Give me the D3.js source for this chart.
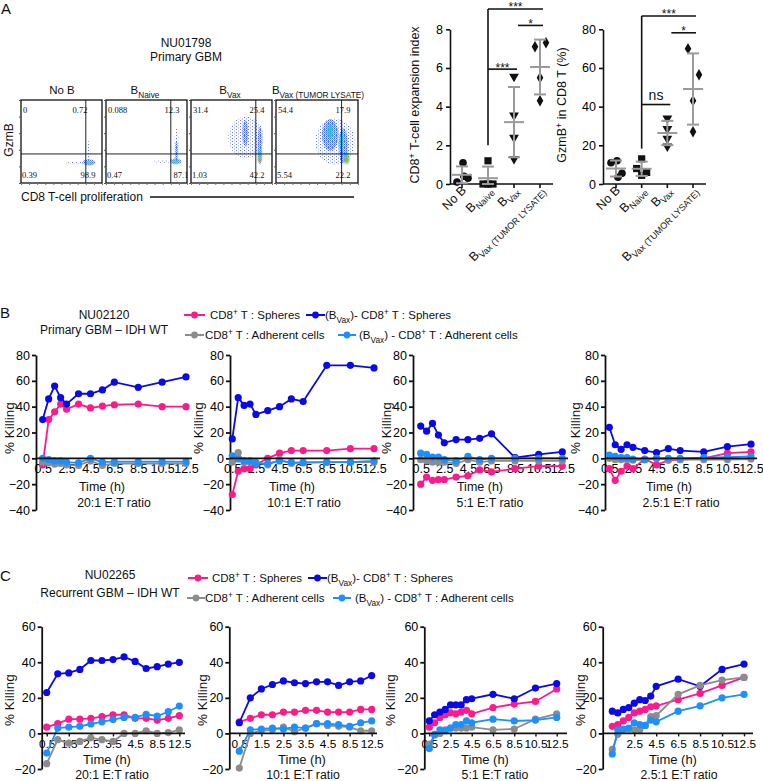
<!DOCTYPE html>
<html><head><meta charset="utf-8">
<script src="https://cdn.jsdelivr.net/npm/d3@7"></script>
<style>body{margin:0;background:#fff}svg{display:block}</style>
</head><body><svg id="c" width="763" height="781"></svg>
<script>
// ================= DATA =================
const flowConditions = ["No B", "B|Naive", "B|Vax", "B|Vax (TUMOR LYSATE)"];
// quadrant %: [upper-left, upper-right, lower-left, lower-right]
const flowQuadrants = [[0, 0.72, 0.39, 98.9], [0.088, 12.3, 0.47, 87.1], [31.4, 25.4, 1.03, 42.2], [54.4, 17.9, 5.54, 22.2]];
const flowGateProlif = 80, flowGateGzmb = 35;
// density regions: [proliferation, GzmB, spreadX, spreadY, density level]
const flowBlobsNoB = [[70,24,16,1.5,0],[84,38,1.5,14,0],[84,25,8,3.5,1],[84,24,5,2,2],[83,24,2.2,1.2,3]];
const flowBlobsNaive = [[70,26,15,1.5,0],[87,47,2.5,20,0],[87,38,2,13,1],[86,26,7,3.5,1],[86,26,4,2.2,2],[86,25.5,1.8,1.2,3]];
const flowBlobsVax = [[68,55,22,25,0],[85,45,2.8,23,1],[67,60,3.5,16,1],[85,33,2.2,8,2],[85,28,1.6,3.5,3],[85,27.5,1.1,1.6,4]];
const flowBlobsTL = [[72,50,24,28,0],[66,58,10,19,1],[82,45,5.5,21,1],[66,62,3.5,9,2],[80,50,2.2,11,2],[86,30,3.5,7,2],[86,28,2.2,3.5,3],[86,28,1.3,1.7,4]];

const scatterGroups = ["No B", "B|Naive", "B|Vax", "B|Vax (TUMOR LYSATE)"];
const expansionIndex = [[0.1, 1.1, 0.3, 0.4], [1.2, 0, 0, 0], [5.55, 3.55, 2.4, 1.3], [7.1, 7.3, 5.5, 4.3]];
const gzmbPercent = [[11, 12, 5.5, 3.5], [13, 8, 6, 4.5], [34, 28.5, 23.5, 19.5], [70, 56.5, 43, 27]];
const expansionTicks = [0, 2, 4, 6, 8];
const gzmbTicks = [0, 20, 40, 60, 80];
const expansionSig = [[1, 3, 9.05, "***"], [2, 3, 8.2, "*"], [1, 2, 5.94, "***"]];
const gzmbSig = [[1, 3, 86.9, "***"], [2, 3, 78.2, "*"], [1, 2, 41.1, "ns"]];
const expansionSigBase = 2.0, gzmbSigBase = 18.3;

const seriesLabels = [
  [["CD8"],["+","sup"],[" T : Spheres"]],
  [["(B"],["Vax","sub"],[")- CD8"],["+","sup"],[" T : Spheres"]],
  [["CD8"],["+","sup"],[" T : Adherent cells"]],
  [["(B"],["Vax","sub"],[") - CD8"],["+","sup"],[" T : Adherent cells"]]
];
const seriesColors = ["#ff1a8c", "#0a0ae8", "#8c8c8c", "#1e8fff"];
const ratioLabels = ["20:1 E:T ratio", "10:1 E:T ratio", "5:1 E:T ratio", "2.5:1 E:T ratio"];

const timesB = [0.5, 1, 1.5, 2, 2.5, 3.5, 4.5, 5.5, 6.5, 8.5, 10.5, 12.5];
const ticksB = [0.5, 2.5, 4.5, 6.5, 8.5, 10.5, 12.5];
const yTicksB = [-40, -20, 0, 20, 40, 60, 80];
const bSph20 = [-5, 30, 36, 42, 38, 42, 39, 40.5, 41.5, 42, 40, 40];
const bVaxSph20 = [30, 46, 56, 47, 42, 50, 50, 53, 59, 55, 59, 63];
const bAdh20 = [-3, -3.5, -4.5, -4, -5, -5.5, -2, -5.5, -4, -4, -4, -4];
const bVaxAdh20 = [0, -1, -2, -2, -3, -3.5, 0, -3, -2.5, -2.5, -2.5, -2.5];
const bSph10 = [-28, -10, -8, -8, -5, 0, 4, 6, 6, 6, 7.5, 7.5];
const bVaxSph10 = [15, 47, 41, 42, 34, 37, 40, 46, 44, 72, 72, 70];
const bAdh10 = [-3, 4.5, -3, -3, -3, -5, -1, -4, -3, -3, -3, -3];
const bVaxAdh10 = [2, -0.5, -2, -2, -4, -4, -2, -3, -3.5, -3, -3, -2];
const bSph5 = [-20, -14.5, -17, -16.5, -16.5, -14.5, -13.5, -9, -10.5, -8, -6, -6];
const bVaxSph5 = [25, 21, 27, 18, 12, 14.5, 14.5, 15.5, 19, 0.5, 3, 5];
const bAdh5 = [-1, -2, -3, -3, -3, -4, -1, -3, -2, -2, -2, -2];
const bVaxAdh5 = [4, 3, 1, 1, -1, -2, 1.5, -1, 0, 0, 0, 0];
const bSph2 = [-8, -17, -10, -6, -8, -0.5, -5, -1.5, -1, 0, 4, 5];
const bVaxSph2 = [24, 10.5, 7, 10.5, 8.5, 6, 4.5, 7.5, 6, 5, 9, 11];
const bAdh2 = [0, -1, -1, -1, -1.5, -1, 0, -1, -1, -1, -1, -0.5];
const bVaxAdh2 = [2.5, 1.5, 0.5, 0.5, -0.5, -1, 0, 0, 0, 0.5, 1, 1.5];

const timesC = [0.5, 1, 1.5, 2, 2.5, 3, 3.5, 4, 4.5, 6.5, 8.5, 10.5, 12.5];
const ticksCcat = [0.5, 1.5, 2.5, 3.5, 4.5, 8.5, 12.5];
const ticksClin = [0.5, 2.5, 4.5, 6.5, 8.5, 10.5, 12.5];
const ticksClin2 = [2.5, 4.5, 6.5, 8.5, 10.5, 12.5];
const yTicksC = [-20, 0, 20, 40, 60];
const cSph20 = [3.5, 5.5, 8, 8, 8.5, 9.5, 10.5, 10.5, 8.5, 8.5, 7.5, 8.5, 10];
const cVaxSph20 = [23, 33.5, 34, 36, 41, 41, 41.5, 43, 40.5, 36.5, 37.5, 39, 40];
const cAdh20 = [-17, -3.5, -5.5, -4.5, -2.5, -3.5, -4.5, 0, 0, 1.5, 0, 0.5, 2];
const cVaxAdh20 = [-11, 3, 3.5, 4, 5.3, 6.5, 7.8, 9, 9, 10.7, 9.8, 12.2, 15.4];
const cSph10 = [6.5, 8.5, 10.5, 10.5, 12, 12, 13, 13, 12, 12, 12, 13.5, 13.5];
const cVaxSph10 = [6, 20, 25, 27.5, 29.5, 28.5, 28, 29, 29, 27, 29, 29.5, 32.5];
const cAdh10 = [-19.5, 0, 1.5, 2, 3.5, 1, 3, 5.5, 4.5, 4, 3.5, 1.5, 1.5];
const cVaxAdh10 = [-10, 2, 2.5, 3, 2.5, 3.5, 3, 5.5, 5.5, 5, 4, 6, 7];
const cSph5 = [3.5, 6, 9, 10.5, 11.5, 11, 12, 13, 11, 14.5, 16.5, 18, 25];
const cVaxSph5 = [7, 10.5, 12, 13.5, 16, 16, 16, 19, 19.5, 22, 19.5, 25.5, 28];
const cAdh5 = [-6, -1, 0, 2, 3, 3, 3, 3, 3.5, 2, 2.5, 8, 11];
const cVaxAdh5 = [-8.5, -0.5, 2, 1.5, 3, 5, 5, 7, 6, 8, 7, 7.5, 9];
const cSph2 = [4, 5, 7, 9, 11.5, 12.5, 13.5, 15, 15.5, 19, 22.5, 27, 31.5];
const cVaxSph2 = [12.5, 11.5, 13.5, 14.5, 17, 19, 18.5, 21, 26.5, 30.5, 26.5, 36, 39];
const cAdh2 = [-9, -0.5, 2, 2.5, 2, 2, 4.5, 9.5, 10, 22, 27, 30, 31.5];
const cVaxAdh2 = [-11.5, 2, 2.5, 3, 6, 5, 4.5, 7.5, 6.5, 12.5, 15.5, 20, 22];

// ================= DRAWING =================
const FONT = '"Liberation Sans", Arial, Helvetica, sans-serif';
const SERIF = '"Liberation Serif", "Times New Roman", serif';
const svg = d3.select("#c").attr("font-family", FONT);
const defs = svg.append("defs");
const pat = defs.append("pattern").attr("id", "spk").attr("width", 4).attr("height", 3).attr("patternUnits", "userSpaceOnUse");
pat.append("rect").attr("width", 1).attr("height", 1).attr("fill", "#2438ff");
pat.append("rect").attr("x", 2).attr("y", 1.5).attr("width", 1).attr("height", 1).attr("fill", "#5a7cff");
const pat2 = defs.append("pattern").attr("id", "spk2").attr("width", 2).attr("height", 2).attr("patternUnits", "userSpaceOnUse");
pat2.append("rect").attr("width", 1.2).attr("height", 1.2).attr("fill", "#2f5cff");
pat2.append("rect").attr("x", 1).attr("y", 1).attr("width", 1).attr("height", 1).attr("fill", "#38b8ff");
defs.append("filter").attr("id", "bl").attr("x", "-50%").attr("y", "-50%").attr("width", "200%").attr("height", "200%")
  .append("feGaussianBlur").attr("stdDeviation", 0.8);

function rich(t, parts, size) {
  let shift = 0;
  parts.forEach(([s, m]) => {
    const target = m === "sub" ? 3.5 : m === "sup" ? -4.5 : 0;
    const ts = t.append("tspan").text(s).attr("dy", target - shift);
    shift = target;
    if (m) ts.attr("font-size", size * 0.72);
  });
}
function labelParts(s) {
  if (s.indexOf("|") < 0) return [[s]];
  const [a, b] = s.split("|");
  return [[a], [b, "sub"]];
}
function text(x, y, s, opt = {}) {
  const t = svg.append("text").attr("x", x).attr("y", y)
    .attr("font-size", opt.size || 12).attr("text-anchor", opt.anchor || "start").attr("fill", "#111");
  if (opt.family) t.attr("font-family", opt.family);
  if (opt.rotate) t.attr("transform", `rotate(${opt.rotate},${x},${y})`);
  if (Array.isArray(s)) rich(t, s, opt.size || 12); else t.text(s);
  return t;
}

// ---- panel letters & titles
text(1, 14, "A", {size: 15});
text(0, 318, "B", {size: 15});
text(0, 581, "C", {size: 15});
text(186, 47, "NU01798", {anchor: "middle"});
text(186, 61, "Primary GBM", {anchor: "middle"});
text(104, 319, "NU02120", {anchor: "middle"});
text(104, 334, "Primary GBM \u2013 IDH WT", {anchor: "middle"});
text(110, 579, "NU02265", {anchor: "middle"});
text(110, 597, "Recurrent GBM \u2013 IDH WT", {anchor: "middle"});

// ---- flow plots
const flowBoxes = [[21, 102], [106, 187], [191, 272], [276, 358]];
const flowTop = 100, flowBottom = 183;
const flowBlobs = [flowBlobsNoB, flowBlobsNaive, flowBlobsVax, flowBlobsTL];
const levelFill = ["url(#spk)", "url(#spk2)", "#22c4b0", "#c8d82a", "#ff3a1a"];
const levelOp = [0.7, 0.85, 0.85, 0.9, 0.95];
const titleX = [62, 145, 230, 318];
const urX = [80, 172, 257, 343], lrX = [88, 181, 257, 343];
flowConditions.forEach((c, i) => {
  const [l, r] = flowBoxes[i];
  const fx = d3.scaleLinear().domain([0, 100]).range([l, r]);
  const fy = d3.scaleLinear().domain([0, 100]).range([flowBottom, flowTop]);
  defs.append("clipPath").attr("id", "fc" + i).append("rect").attr("x", l).attr("y", flowTop).attr("width", r - l).attr("height", flowBottom - flowTop);
  const g = svg.append("g").attr("clip-path", `url(#fc${i})`);
  flowBlobs[i].forEach(([px, gy, sx, sy, lv]) => {
    g.append("ellipse").attr("cx", fx(px)).attr("cy", fy(gy))
      .attr("rx", fx(px + sx) - fx(px)).attr("ry", fy(gy) - fy(gy + sy))
      .attr("fill", levelFill[lv]).attr("opacity", levelOp[lv])
      .attr("filter", lv > 1 ? "url(#bl)" : null);
  });
  g.append("line").attr("x1", l).attr("x2", r).attr("y1", fy(flowGateGzmb)).attr("y2", fy(flowGateGzmb)).attr("stroke", "#222").attr("stroke-width", 1);
  g.append("line").attr("x1", fx(flowGateProlif)).attr("x2", fx(flowGateProlif)).attr("y1", flowTop).attr("y2", flowBottom).attr("stroke", "#222").attr("stroke-width", 1);
  svg.append("rect").attr("x", l).attr("y", flowTop).attr("width", r - l).attr("height", flowBottom - flowTop)
    .attr("fill", "none").attr("stroke", "#111").attr("stroke-width", 1.3);
  const la = svg.append("g").attr("transform", `translate(${l},0)`).call(d3.axisLeft(fy).ticks(5).tickSize(2).tickFormat(""));
  la.select(".domain").remove(); la.selectAll("line").attr("stroke", "#555");
  const ba = svg.append("g").attr("transform", `translate(0,${flowBottom})`).call(d3.axisBottom(fx).ticks(8).tickSize(2).tickFormat(""));
  ba.select(".domain").remove(); ba.selectAll("line").attr("stroke", "#777");
  const q = flowQuadrants[i];
  text(l + 2, 113, String(q[0]), {size: 8.5, family: SERIF});
  text(urX[i], 113, String(q[1]), {size: 8.5, family: SERIF, anchor: "middle"});
  text(l + 1, 178, String(q[2]), {size: 8.5, family: SERIF});
  text(lrX[i], 178, String(q[3]), {size: 8.5, family: SERIF, anchor: "middle"});
  text(titleX[i], 94, labelParts(c), {size: 11.5, anchor: "middle"});
});
text(13, 140, "GzmB", {anchor: "middle", rotate: -90});
text(21, 201, "CD8 T-cell proliferation");
svg.append("line").attr("x1", 150).attr("x2", 354).attr("y1", 197).attr("y2", 197).attr("stroke", "#111").attr("stroke-width", 1.5);

// ---- scatter plots (panel A)
function scatterPlot(values, yTicks, sig, sigBase, axisX, axisEnd, xr, yLabel, yLabelX) {
  const y = d3.scaleLinear().domain([0, yTicks[yTicks.length - 1]]).range([184, 29.3]);
  const x = d3.scalePoint().domain(scatterGroups).range(xr);
  const ya = svg.append("g").attr("transform", `translate(${axisX},0)`)
    .call(d3.axisLeft(y).tickValues(yTicks).tickSize(4).tickSizeOuter(0).tickPadding(3));
  ya.attr("font-size", 12.5).attr("font-family", FONT);
  ya.selectAll("path,line").attr("stroke", "#111").attr("stroke-width", 1.6);
  svg.append("line").attr("x1", axisX).attr("x2", axisEnd).attr("y1", y(0)).attr("y2", y(0)).attr("stroke", "#111").attr("stroke-width", 1.6);
  scatterGroups.forEach((gName) => {
    const cx = x(gName);
    svg.append("line").attr("x1", cx).attr("x2", cx).attr("y1", y(0)).attr("y2", y(0) + 4).attr("stroke", "#111").attr("stroke-width", 1.6);
    text(cx + 5, 191, labelParts(gName), {anchor: "end", rotate: -45, size: 12.5});
  });
  const offsets = [[-5, 1, 6, 2], [0, -5, 5, 0], [0, 0, 0, 0], [-5, 6, 0, 0]];
  const symbols = [d3.symbolCircle, d3.symbolSquare, d3.symbolTriangle, d3.symbolDiamond];
  const sizes = [46, 52, 42, 38];
  values.forEach((vals, gi) => {
    const cx = x(scatterGroups[gi]);
    vals.forEach((v, k) => {
      svg.append("path").attr("d", d3.symbol(symbols[gi], sizes[gi])())
        .attr("transform", `translate(${cx + offsets[gi][k]},${y(v)}) rotate(${gi === 2 ? 180 : 0})`).attr("fill", "#111");
    });
  });
  values.forEach((vals, gi) => {
    const cx = x(scatterGroups[gi]);
    const m = d3.mean(vals), sd = d3.deviation(vals);
    const lo = Math.max(0, m - sd), hi = m + sd;
    const gg = svg.append("g").attr("stroke", "#9a9a9a").attr("stroke-width", 2);
    gg.append("line").attr("x1", cx).attr("x2", cx).attr("y1", y(lo)).attr("y2", y(hi));
    gg.append("line").attr("x1", cx - 10).attr("x2", cx + 10).attr("y1", y(m)).attr("y2", y(m));
    gg.append("line").attr("x1", cx - 6).attr("x2", cx + 6).attr("y1", y(hi)).attr("y2", y(hi));
    gg.append("line").attr("x1", cx - 6).attr("x2", cx + 6).attr("y1", y(lo)).attr("y2", y(lo));
  });
  const topY = d3.max(sig, d => d[2]);
  svg.append("line").attr("x1", x(scatterGroups[1])).attr("x2", x(scatterGroups[1])).attr("y1", y(topY)).attr("y2", y(sigBase)).attr("stroke", "#111").attr("stroke-width", 1.6);
  sig.forEach(([a, b, v, lab]) => {
    const x0 = x(scatterGroups[a]) + (a === 1 ? 0 : 4), x1 = x(scatterGroups[b]) + 3;
    svg.append("line").attr("x1", x0).attr("x2", x1).attr("y1", y(v)).attr("y2", y(v)).attr("stroke", "#111").attr("stroke-width", 1.6);
    text((x0 + x1) / 2, y(v) + (lab === "ns" ? -5 : 2.5), lab, {anchor: "middle", size: lab === "ns" ? 14 : 12});
  });
  text(yLabelX, 105, yLabel, {anchor: "middle", rotate: -90, size: 12.5});
}
scatterPlot(expansionIndex, expansionTicks, expansionSig, expansionSigBase, 450, 553, [462, 540],
  [["CD8"], ["+", "sup"], [" T-cell expansion index"]], 419);
scatterPlot(gzmbPercent, gzmbTicks, gzmbSig, gzmbSigBase, 603, 706, [616, 693],
  [["GzmB"], ["+", "sup"], [" in CD8 T (%)"]], 566);

// ---- legends
function legend(rows) {
  rows.forEach(([si, x0, x1, tx, y]) => {
    svg.append("line").attr("x1", x0).attr("x2", x1).attr("y1", y).attr("y2", y).attr("stroke", seriesColors[si]).attr("stroke-width", 2);
    svg.append("circle").attr("cx", (x0 + x1) / 2).attr("cy", y).attr("r", 3.4).attr("fill", seriesColors[si]);
    text(tx, y + 4, seriesLabels[si], {size: 11.5});
  });
}
legend([[0, 184, 205, 210, 315], [1, 306, 325, 325, 315], [2, 185, 204, 205, 335], [3, 338, 356, 359, 335]]);
legend([[0, 188, 208, 212, 578], [1, 308, 327, 327, 578], [2, 187, 205, 205, 598], [3, 333, 351, 355, 598]]);

// ---- killing plots
function killingPlot(p) {
  const y = d3.scaleLinear().domain(p.yDomain).range(p.yRange);
  const x = p.mode === "point"
    ? d3.scalePoint().domain(p.times).range([p.xStart, p.xEnd])
    : d3.scaleLinear().domain([p.times[0], p.times[p.times.length - 1]]).range([p.xStart, p.xEnd]);
  const ya = svg.append("g").attr("transform", `translate(${p.axisX},0)`)
    .call(d3.axisLeft(y).tickValues(p.yTicks).tickSize(4).tickSizeOuter(0).tickPadding(2).tickFormat(d3.format("d")));
  ya.attr("font-size", 12.5).attr("font-family", FONT);
  ya.selectAll("path,line").attr("stroke", "#111").attr("stroke-width", 1.8);
  const y0 = y(0);
  const xa = svg.append("g").attr("transform", `translate(0,${y0})`)
    .call(d3.axisBottom(x).tickValues(p.xTicks).tickSize(3).tickFormat(d => d));
  xa.select(".domain").remove();
  xa.attr("font-size", p.xTickSize).attr("font-family", FONT);
  xa.selectAll("line").attr("stroke", "#111").attr("stroke-width", 1.4);
  const line = d3.line().x((d, i) => x(p.times[i])).y(d => y(d));
  p.series.forEach((vals, si) => {
    svg.append("path").attr("d", line(vals)).attr("fill", "none").attr("stroke", seriesColors[si]).attr("stroke-width", 1.8);
    svg.append("g").selectAll("circle").data(vals).join("circle")
      .attr("cx", (d, i) => x(p.times[i])).attr("cy", d => y(d)).attr("r", 3.6).attr("fill", seriesColors[si]);
  });
  svg.append("line").attr("x1", p.axisX).attr("x2", p.axisEnd).attr("y1", y0).attr("y2", y0).attr("stroke", "#111").attr("stroke-width", 1.7);
  text(p.timeX, p.timeY, "Time (h)", {anchor: "middle", size: p.timeSize});
  text(p.ratioX, p.ratioY, p.ratio, {anchor: "middle", size: 12.3});
  text(p.killX, p.killY, "% Killing", {anchor: "middle", rotate: -90, size: 13.5});
}
const bSeries = [[bSph20, bVaxSph20, bAdh20, bVaxAdh20], [bSph10, bVaxSph10, bAdh10, bVaxAdh10],
  [bSph5, bVaxSph5, bAdh5, bVaxAdh5], [bSph2, bVaxSph2, bAdh2, bVaxAdh2]];
const bLayout = [[36, 42.7, 186, 192, 102, 114, 14], [230, 232.3, 374, 380, 292, 304, 203], [413, 420.7, 562.3, 568, 480, 490, 391], [605, 609.3, 751, 757, 669, 681, 580]];
bLayout.forEach(([ax, xs, xe, ae, tx, rx, kx], i) => {
  killingPlot({times: timesB, mode: "linear", series: bSeries[i], xTicks: ticksB, yTicks: yTicksB, xTickSize: 12.5,
    yDomain: [-40, 80], yRange: [510, 355], axisX: ax, xStart: xs, xEnd: xe, axisEnd: ae,
    timeX: tx, timeY: 491, timeSize: 12.5, ratioX: rx, ratioY: 507, ratio: ratioLabels[i], killX: kx, killY: 428});
});
const cSeries = [[cSph20, cVaxSph20, cAdh20, cVaxAdh20], [cSph10, cVaxSph10, cAdh10, cVaxAdh10],
  [cSph5, cVaxSph5, cAdh5, cVaxAdh5], [cSph2, cVaxSph2, cAdh2, cVaxAdh2]];
const cModes = ["point", "point", "linear", "linear"];
const cTicks = [ticksCcat, ticksCcat, ticksClin, ticksClin2];
const cLayout = [[41.7, 46.7, 179.3, 185, 107, 112, 14], [229.3, 239.3, 371.7, 377, 302, 303, 207], [424.3, 429.3, 556.7, 567, 485, 495, 395], [602.7, 612.3, 744, 753, 673, 679, 585]];
cLayout.forEach(([ax, xs, xe, ae, tx, rx, kx], i) => {
  killingPlot({times: timesC, mode: cModes[i], series: cSeries[i], xTicks: cTicks[i], yTicks: yTicksC, xTickSize: 11.8,
    yDomain: [-20, 60], yRange: [769, 626.7], axisX: ax, xStart: xs, xEnd: xe, axisEnd: ae,
    timeX: tx, timeY: 764, timeSize: 13, ratioX: rx, ratioY: 778.5, ratio: ratioLabels[i], killX: kx, killY: 700});
});
</script></body></html>
